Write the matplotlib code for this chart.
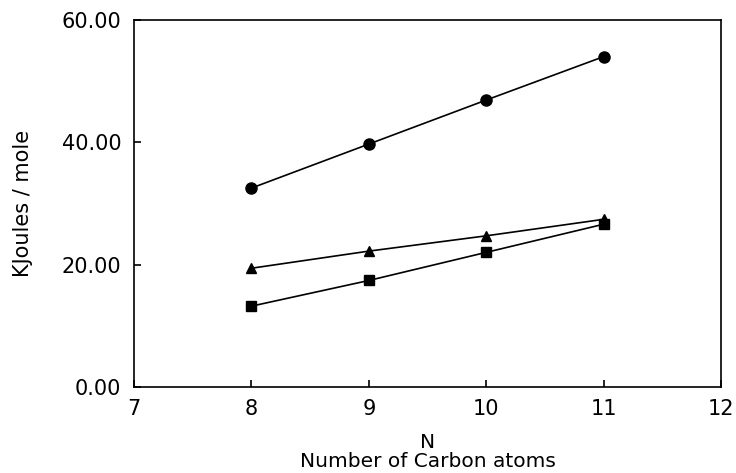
"""Heats vs number of carbon atoms, three series."""

import matplotlib
matplotlib.use('Agg')
import matplotlib.pyplot as plt

carbon_n = [8, 9, 10, 11]
circle_vals = [32.5, 39.7, 46.9, 54.0]
triangle_vals = [19.4, 22.2, 24.7, 27.4]
square_vals = [13.2, 17.4, 22.0, 26.6]

x_ticks = [7, 8, 9, 10, 11, 12]
y_ticks = [0, 20, 40, 60]

plt.rcParams['font.family'] = 'DejaVu Sans'

fig = plt.figure(figsize=(7.36, 4.73), dpi=100)
ax = fig.add_axes([0.182, 0.182, 0.798, 0.776])

ax.plot(carbon_n, circle_vals, 'k-', marker='o', ms=8, lw=1.2)
ax.plot(carbon_n, triangle_vals, 'k-', marker='^', ms=7, lw=1.2)
ax.plot(carbon_n, square_vals, 'k-', marker='s', ms=6.5, lw=1.2)

ax.set_xlim(7, 12)
ax.set_ylim(0, 60)
ax.set_xticks(x_ticks)
ax.set_yticks(y_ticks)
ax.set_yticklabels(['%.2f' % v for v in y_ticks])
ax.tick_params(direction='in', length=5, width=1.2, labelsize=15, pad=9)
for side in ax.spines.values():
  side.set_linewidth(1.2)

ax.set_xlabel('N\nNumber of Carbon atoms', fontsize=14.5, labelpad=10,
              linespacing=0.95)
ax.set_ylabel('KJoules / mole', fontsize=15, labelpad=21)

fig.savefig('out.png', dpi=100)
